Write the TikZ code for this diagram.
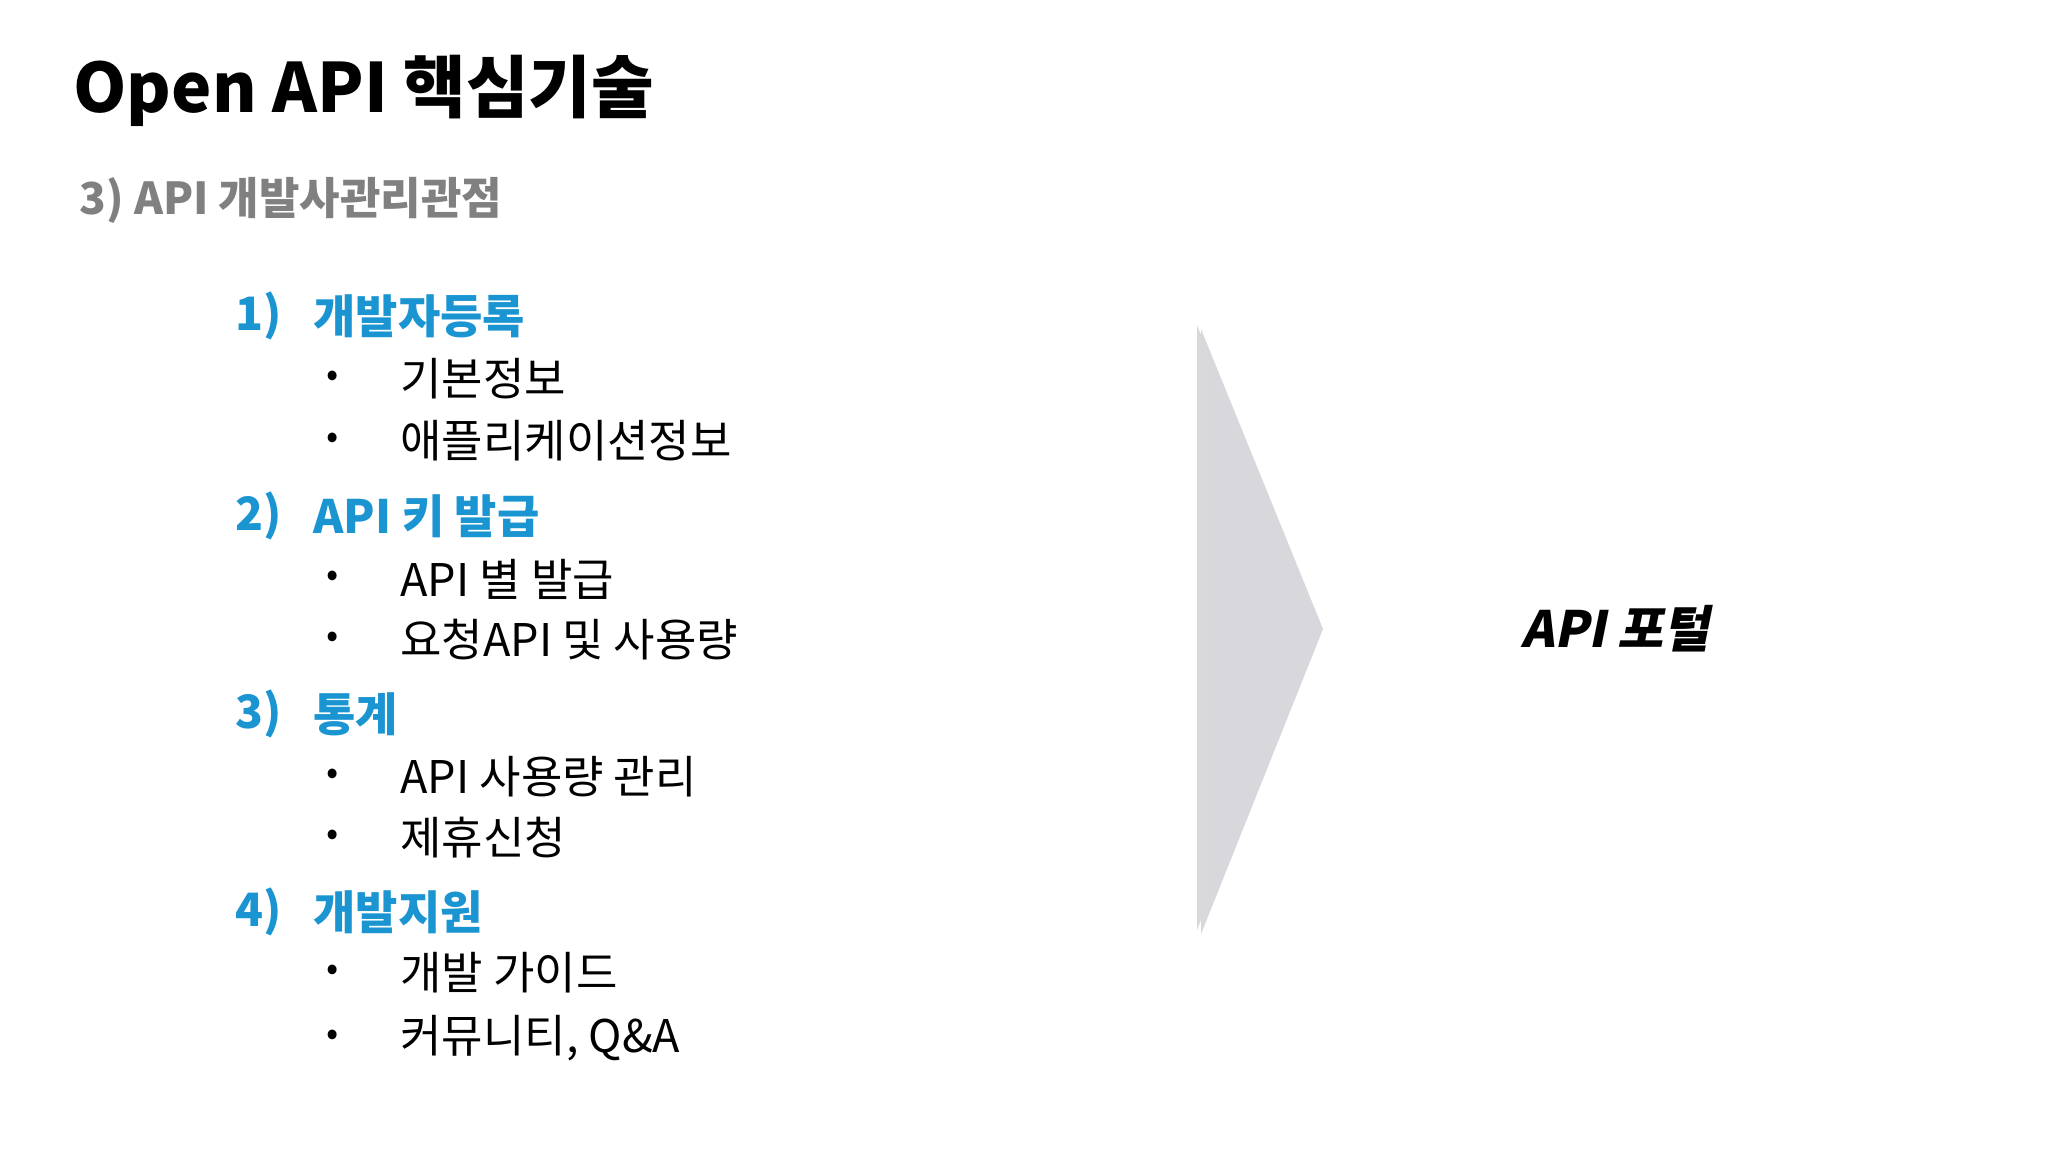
\documentclass[tikz,border=0pt]{standalone}
\usepackage{fontspec}
\setmainfont{Noto Sans CJK KR}
\definecolor{hblue}{HTML}{1B95D2}
\definecolor{sgray}{HTML}{808080}
\definecolor{tri}{HTML}{D8D7DB}
\begin{document}
\begin{tikzpicture}[x=1pt,y=-1pt,
  head/.style={anchor=west,text=hblue,font=\fontsize{46}{52}\selectfont\bfseries},
  item/.style={anchor=west,font=\fontsize{45}{50}\selectfont},
  bul/.style={anchor=center,font=\fontsize{36}{40}\selectfont}]
\useasboundingbox (0,0) rectangle (2048,1152);
\fill[white] (0,0) rectangle (2048,1152);
\node[anchor=west,font=\fontsize{68}{74}\selectfont\bfseries] (title) at (70,91) {Open API 핵심기술};
\node[anchor=west,text=sgray,font=\fontsize{44}{50}\selectfont\bfseries] (sub) at (76,200) {3) API 개발사관리관점};
\foreach \n/\t/\y in {h1/1)/316,h2/2)/516,h3/3)/714,h4/4)/912}
  \node[head] (\n n) at (232,\y) {\t};
\node[head] (h1) at (310,316) {개발자등록};
\node[head] (h2) at (310,516) {API 키 발급};
\node[head] (h3) at (310,714) {통계};
\node[head] (h4) at (310,912) {개발지원};
\foreach \n/\t/\y in {a/기본정보/379,b/애플리케이션정보/441,c/API 별 발급/579,d/요청API 및 사용량/640,e/API 사용량 관리/777,f/제휴신청/838,g/개발 가이드/973,h/{커뮤니티, Q\&A}/1038}{
  \node[bul] (b\n) at (333,\y) {•};
  \node[item] (\n) at (397,\y) {\t};}
\fill[black!15,xshift=-4,yshift=4] (1201,329) -- (1323,629) -- (1201,934) -- cycle;
\fill[tri] (1201,329) -- (1323,629) -- (1201,934) -- cycle;
\node[font=\fontsize{50}{56}\selectfont\bfseries\itshape,xslant=0.2] (portal) at (1619,629) {API 포털};
\end{tikzpicture}
\end{document}
